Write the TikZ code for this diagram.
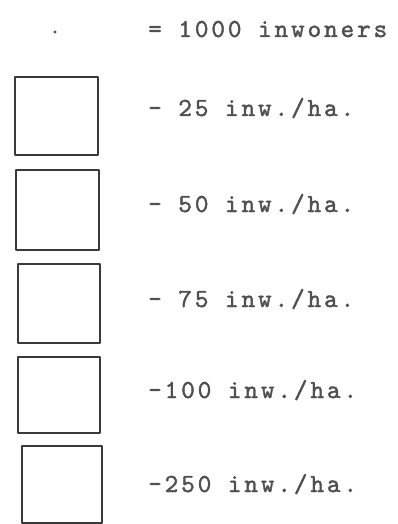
\documentclass[tikz,border=0pt]{standalone}
\usepackage{fontspec}
\newfontfamily\tw{lmmono10-regular}[Extension=.otf, LetterSpace=11, FakeBold=1.5]
\definecolor{ink}{HTML}{505050}
\definecolor{boxink}{HTML}{3A3A3A}
\tikzset{
  legbox/.style={draw=boxink, line width=1.8pt, line join=round},
  lbl/.style={anchor=base west, inner sep=0pt, text=ink, font=\tw\fontsize{26}{26}\selectfont},
}
\begin{document}
\begin{tikzpicture}[x=1pt,y=-1pt]
\useasboundingbox (0,0) rectangle (398,524);
% dot = 1000 inwoners
\fill[ink] (55,32) circle (1.6) coordinate (dot);
\node[lbl] (l0) at (148,37) {= 1000 inwoners};
% boxes
\draw[legbox] (15,77) rectangle (98,155) coordinate (b1);
\draw[legbox] (16,170) rectangle (99,250) coordinate (b2);
\draw[legbox] (18,264) rectangle (100,343) coordinate (b3);
\draw[legbox] (18,357) rectangle (100,433) coordinate (b4);
\draw[legbox] (22,446) rectangle (102,523) coordinate (b5);
% labels
\node[lbl] (l1) at (148,116) {- 25 inw./ha.};
\node[lbl] (l2) at (148,212) {- 50 inw./ha.};
\node[lbl] (l3) at (148,307) {- 75 inw./ha.};
\node[lbl] (l4) at (148,398) {-100 inw./ha.};
\node[lbl] (l5) at (148,492) {-250 inw./ha.};
\end{tikzpicture}
\end{document}
